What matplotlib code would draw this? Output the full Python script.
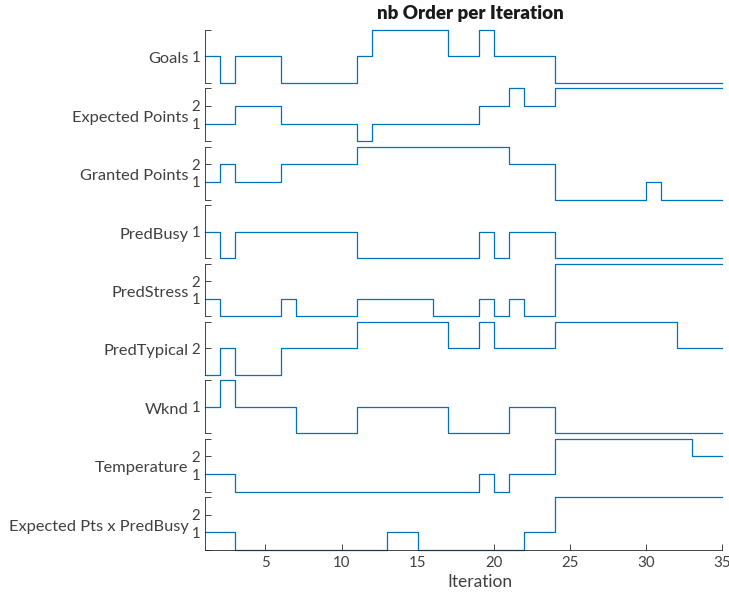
import numpy as np
import matplotlib
matplotlib.use("Agg")
from matplotlib import pyplot as plt

plt.rcParams['font.family'] = ['Lato', 'DejaVu Sans']

iteration = np.arange(1, 36)

# one list per variable, value at each iteration
goals = [1, 0, 1, 1, 1, 0, 0, 0, 0, 0, 1, 2, 2, 2, 2, 2, 1, 1, 2, 1, 1, 1, 1,
         0, 0, 0, 0, 0, 0, 0, 0, 0, 0, 0, 0]
expected_points = [1, 1, 2, 2, 2, 1, 1, 1, 1, 1, 0, 1, 1, 1, 1, 1, 1, 1, 2, 2, 3,
                   2, 2, 3, 3, 3, 3, 3, 3, 3, 3, 3, 3, 3, 3]
granted_points = [1, 2, 1, 1, 1, 2, 2, 2, 2, 2, 3, 3, 3, 3, 3, 3, 3, 3, 3, 3, 2,
                  2, 2, 0, 0, 0, 0, 0, 0, 1, 0, 0, 0, 0, 0]
pred_busy = [1, 0, 1, 1, 1, 1, 1, 1, 1, 1, 0, 0, 0, 0, 0, 0, 0, 0, 1, 0, 1, 1, 1,
             0, 0, 0, 0, 0, 0, 0, 0, 0, 0, 0, 0]
pred_stress = [1, 0, 0, 0, 0, 1, 0, 0, 0, 0, 1, 1, 1, 1, 1, 0, 0, 0, 1, 0, 1, 0, 0,
               3, 3, 3, 3, 3, 3, 3, 3, 3, 3, 3, 3]
pred_typical = [1, 2, 1, 1, 1, 2, 2, 2, 2, 2, 3, 3, 3, 3, 3, 3, 2, 2, 3, 2, 2, 2, 2,
                3, 3, 3, 3, 3, 3, 3, 3, 2, 2, 2, 2]
wknd = [1, 2, 1, 1, 1, 1, 0, 0, 0, 0, 1, 1, 1, 1, 1, 1, 0, 0, 0, 0, 1, 1, 1,
        0, 0, 0, 0, 0, 0, 0, 0, 0, 0, 0, 0]
temperature = [1, 1, 0, 0, 0, 0, 0, 0, 0, 0, 0, 0, 0, 0, 0, 0, 0, 0, 1, 0, 1, 1, 1,
               3, 3, 3, 3, 3, 3, 3, 3, 3, 2, 2, 2]
exp_pts_x_busy = [1, 1, 0, 0, 0, 0, 0, 0, 0, 0, 0, 0, 1, 1, 0, 0, 0, 0, 0, 0, 0, 1, 1,
                  3, 3, 3, 3, 3, 3, 3, 3, 3, 3, 3, 3]

labels = ['Goals', 'Expected Points', 'Granted Points', 'PredBusy', 'PredStress',
          'PredTypical', 'Wknd', 'Temperature', 'Expected Pts x PredBusy']
series = [goals, expected_points, granted_points, pred_busy, pred_stress,
          pred_typical, wknd, temperature, exp_pts_x_busy]
ylims = [(0, 2), (0, 3), (0, 3), (0, 2), (0, 3), (1, 3), (0, 2), (0, 3), (0, 3)]
yticks = [[1], [1, 2], [1, 2], [1], [1, 2], [2], [1], [1, 2], [1, 2]]
xticks = [5, 10, 15, 20, 25, 30, 35]

W, H = 729, 594
fig = plt.figure(figsize=(W / 100, H / 100), dpi=100)

line_color = '#0072BD'
axis_color = '#262626'
left, right = 204.5, 722.3
top, bottom = 30.0, 550.0
gap = 5.7
n = len(series)
h = (bottom - top - gap * (n - 1)) / n

for i, (lab, y) in enumerate(zip(labels, series)):
    y0 = top + i * (h + gap)
    ax = fig.add_axes([left / W, 1 - (y0 + h) / H, (right - left) / W, h / H])
    ax.step(iteration, y, where='post', color=line_color, lw=0.9, clip_on=False)
    ax.set_xlim(1, 35)
    lo, hi = ylims[i]
    ax.set_ylim(lo, hi)
    ax.set_yticks([lo] + yticks[i] + [hi])
    ax.set_yticklabels([''] + [str(t) for t in yticks[i]] + [''])
    ax.tick_params(axis='y', direction='in', length=4, width=0.6, color=axis_color,
                   labelsize=10.8, labelcolor='#404040', pad=3)
    for s in ['top', 'right']:
        ax.spines[s].set_visible(False)
    ax.spines['left'].set_color(axis_color)
    ax.spines['left'].set_linewidth(0.6)
    ax.patch.set_visible(False)
    ax.text(-0.031, 0.47, lab, transform=ax.transAxes, ha='right', va='center_baseline',
            fontsize=11.8, color='#404040')
    if i < n - 1:
        ax.spines['bottom'].set_visible(False)
        ax.set_xticks([])
    else:
        ax.spines['bottom'].set_color(axis_color)
        ax.spines['bottom'].set_linewidth(0.6)
        ax.set_xticks(xticks)
        ax.tick_params(axis='x', direction='in', length=4, width=0.6, color=axis_color,
                       labelsize=10.8, labelcolor='#404040', pad=4)

fig.text(470 / W, 1 - 13 / H, 'nb Order per Iteration', ha='center', va='center',
         fontsize=13.5, fontweight='heavy', color='#1a1a1a')
fig.text(480 / W, 1 - 582 / H, 'Iteration', ha='center', va='center',
         fontsize=12.5, color='#404040')

fig.savefig('out.png', dpi=100)
